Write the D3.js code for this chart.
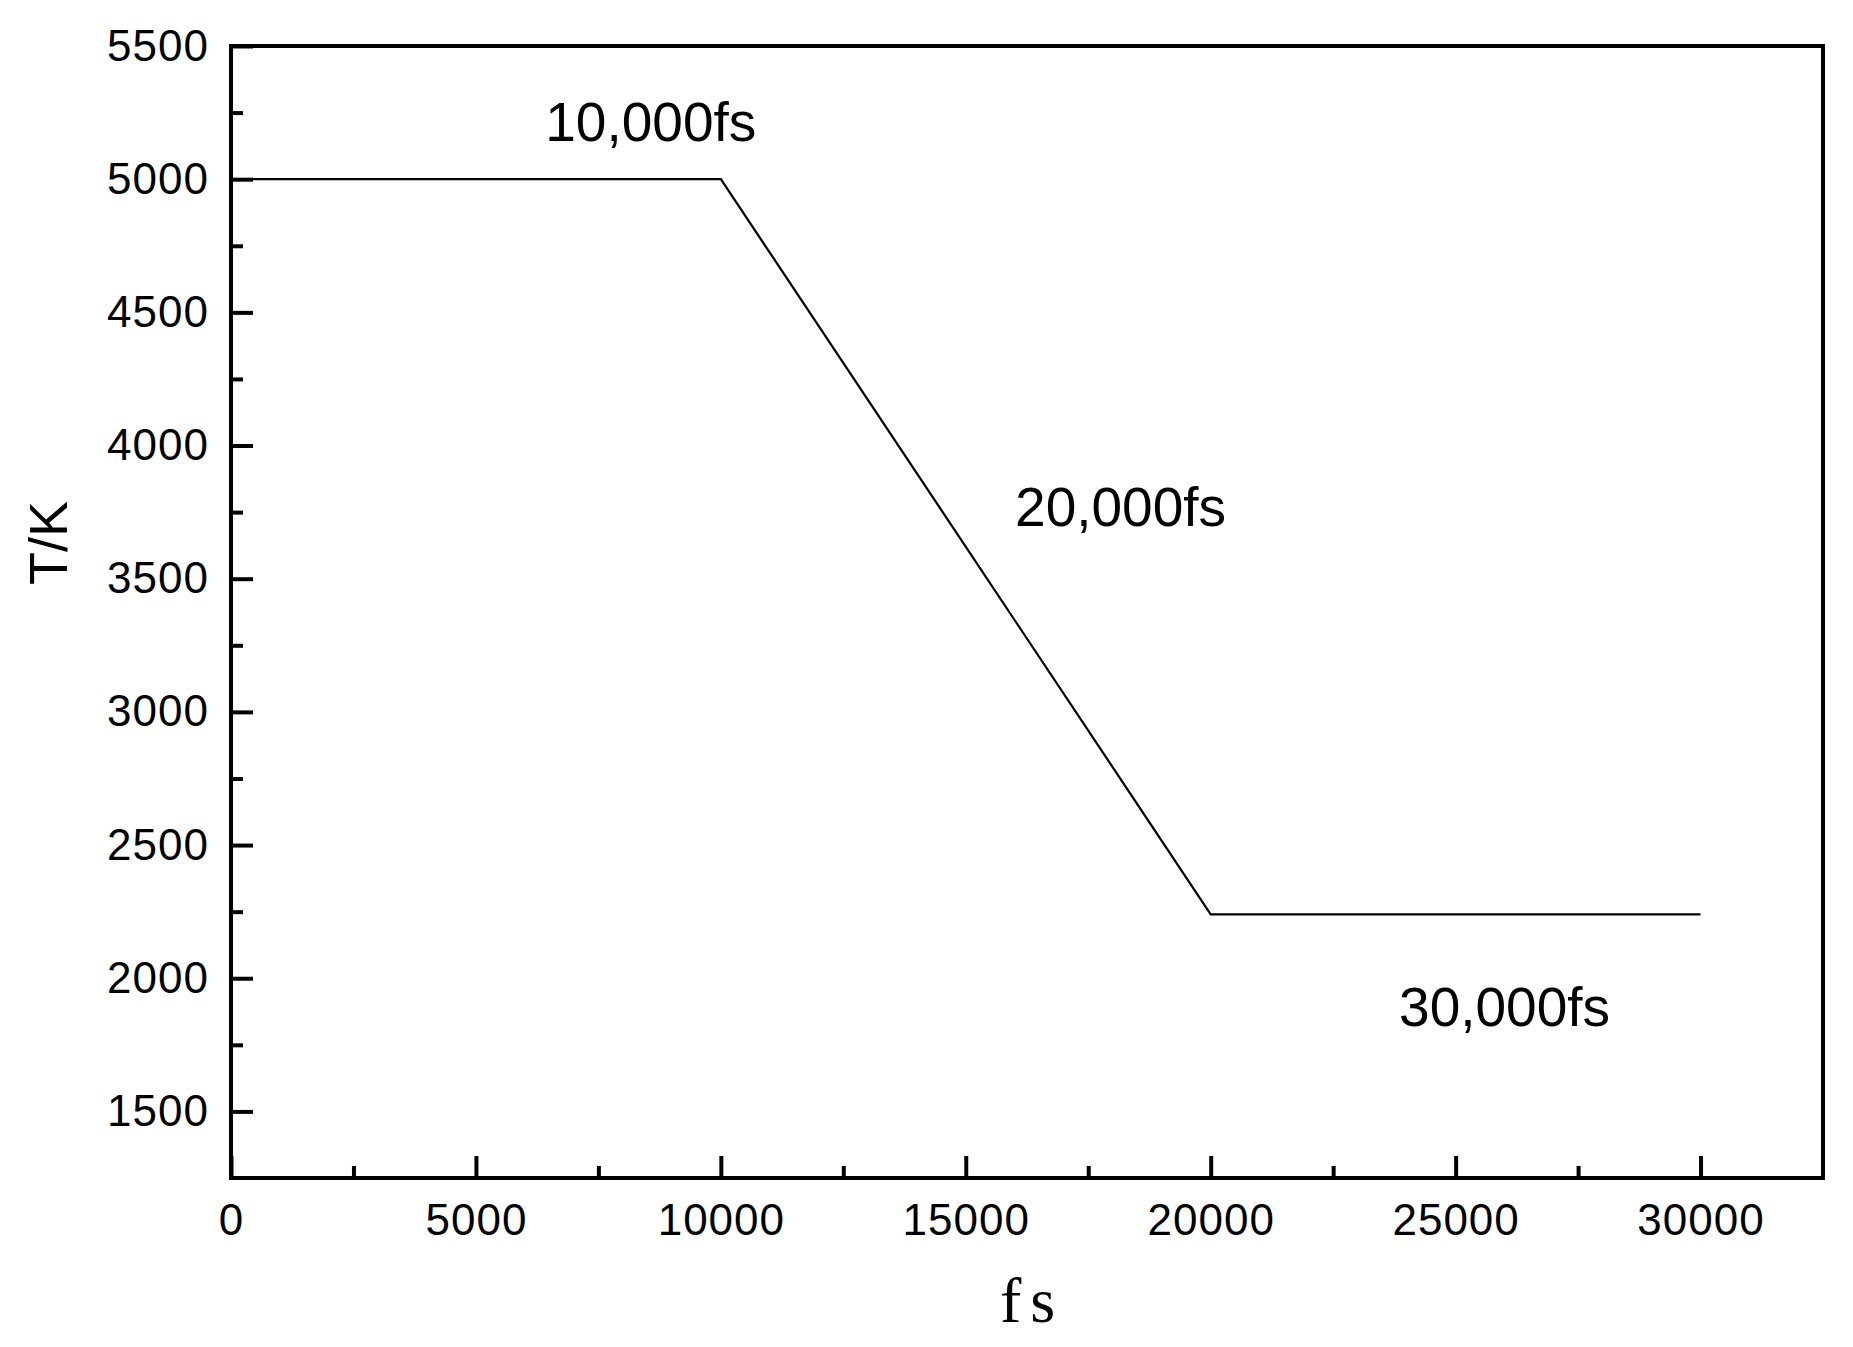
<!DOCTYPE html>
<html>
<head>
<meta charset="utf-8">
<script src="https://cdn.jsdelivr.net/npm/d3@7"></script>
<style>
  body { margin: 0; background: #fff; }
  svg { display: block; }
</style>
</head>
<body>
<svg id="bg" width="1853" height="1347"></svg>
<script>
// data
var times = [0, 10000, 20000, 30000];
var temps = [5000, 5000, 2240, 2240];

var xMajor = [0, 5000, 10000, 15000, 20000, 25000, 30000];
var xMinor = [2500, 7500, 12500, 17500, 22500, 27500];
var yMajor = [1500, 2000, 2500, 3000, 3500, 4000, 4500, 5000, 5500];
var yMinor = [1750, 2250, 2750, 3250, 3750, 4250, 4750, 5250];

var notes = ['10,000fs', '20,000fs', '30,000fs'];
var noteX = [8570, 18160, 26000];
var noteY = [5143, 3698, 1821];

var plotL = 231, plotR = 1823, plotT = 46, plotB = 1178;

var xScale = d3.scaleLinear()
  .domain([0, 32500])
  .range([plotL, plotR]);

var yScale = d3.scaleLinear()
  .domain([1250, 5500])
  .range([plotB, plotT]);

var svg = d3.select('#bg');

// frame
svg.append('rect')
  .attr('x', plotL)
  .attr('y', plotT)
  .attr('width', plotR - plotL)
  .attr('height', plotB - plotT)
  .attr('fill', 'none')
  .attr('stroke', '#000')
  .attr('stroke-width', 4);

function styleAxis(g) {
  g.select('.domain').remove();
  g.selectAll('.tick line').attr('stroke', '#000').attr('stroke-width', 4);
  g.selectAll('.tick text')
    .attr('fill', '#000')
    .attr('font-family', 'Liberation Sans, Arial, sans-serif')
    .attr('font-size', 44)
    .attr('letter-spacing', 1);
}

// x axis
svg.append('g')
  .attr('transform', 'translate(0,' + plotB + ')')
  .call(d3.axisBottom(xScale).tickValues(xMajor).tickSize(-22).tickPadding(26).tickFormat(d3.format('d')))
  .call(styleAxis);

svg.append('g')
  .attr('transform', 'translate(0,' + plotB + ')')
  .call(d3.axisBottom(xScale).tickValues(xMinor).tickSize(-12).tickFormat(''))
  .call(styleAxis);

// y axis
svg.append('g')
  .attr('transform', 'translate(' + plotL + ',0)')
  .call(d3.axisLeft(yScale).tickValues(yMajor).tickSize(-22).tickPadding(22).tickFormat(d3.format('d')))
  .call(styleAxis);

svg.append('g')
  .attr('transform', 'translate(' + plotL + ',0)')
  .call(d3.axisLeft(yScale).tickValues(yMinor).tickSize(-12).tickFormat(''))
  .call(styleAxis);

// curve
var pts = times.map(function(t, i) { return { t: t, v: temps[i] }; });

svg.append('path')
  .datum(pts)
  .attr('fill', 'none')
  .attr('stroke', '#000')
  .attr('stroke-width', 2.2)
  .attr('d', d3.line()
    .x(function(d) { return xScale(d.t); })
    .y(function(d) { return yScale(d.v); })
  );

// annotations
svg.selectAll('.note')
  .data(notes)
  .join('text')
  .attr('class', 'note')
  .text(function(d) { return d; })
  .attr('x', function(d, i) { return xScale(noteX[i]); })
  .attr('y', function(d, i) { return yScale(noteY[i]); })
  .attr('text-anchor', 'middle')
  .attr('font-family', 'Liberation Sans, Arial, sans-serif')
  .attr('font-size', 55)
  .attr('fill', '#000');

// axis titles
svg.append('text')
  .text('fs')
  .attr('x', 1032)
  .attr('y', 1322)
  .attr('text-anchor', 'middle')
  .attr('font-family', 'Liberation Serif, Times New Roman, serif')
  .attr('font-size', 64)
  .attr('letter-spacing', 9)
  .attr('fill', '#000');

svg.append('text')
  .text('T/K')
  .attr('transform', 'translate(67,543) rotate(-90)')
  .attr('text-anchor', 'middle')
  .attr('font-family', 'Liberation Sans, Arial, sans-serif')
  .attr('font-size', 54)
  .attr('fill', '#000');
</script>
</body>
</html>
